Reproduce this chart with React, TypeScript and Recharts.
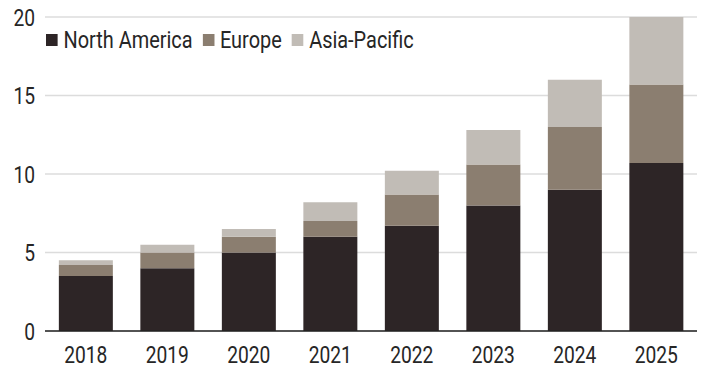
import React from 'react';
import {
  BarChart,
  Bar,
  XAxis,
  YAxis,
  CartesianGrid,
} from 'recharts';

const years = ['2018', '2019', '2020', '2021', '2022', '2023', '2024', '2025'];
const northAmerica = [3.5, 4, 5, 6, 6.7, 8, 9, 10.7];
const europe = [0.7, 1, 1, 1, 2, 2.6, 4, 5];
const asiaPacific = [0.3, 0.5, 0.5, 1.2, 1.5, 2.2, 3, 4.3];
const yTicks = [0, 5, 10, 15, 20];

const SERIES = [
  { key: 'na', name: 'North America', color: '#2d2526' },
  { key: 'eu', name: 'Europe', color: '#8b7e70' },
  { key: 'ap', name: 'Asia-Pacific', color: '#c1bcb6' },
];

const data = years.map((year, i) => ({
  year,
  na: northAmerica[i],
  eu: europe[i],
  ap: asiaPacific[i],
}));

// condensed look: Roboto squeezed horizontally
const FONT = 'Roboto, "Liberation Sans", sans-serif';
const SQUEEZE = 0.8;
const LEGEND_SQUEEZE = 0.83;
const FONT_SIZE = 24;

const XTick = ({ x, y, payload }: any) => (
  <text
    transform={`translate(${x},${y}) scale(${SQUEEZE},1)`}
    textAnchor='middle'
    dy='0.71em'
    fill='#262626'
    fontSize={FONT_SIZE}
    fontFamily={FONT}
  >
    {payload.value}
  </text>
);

const YTick = ({ x, y, payload }: any) => (
  <text
    transform={`translate(${x},${y}) scale(${SQUEEZE},1)`}
    textAnchor='end'
    dy='0.355em'
    fill='#262626'
    fontSize={FONT_SIZE}
    fontFamily={FONT}
  >
    {payload.value}
  </text>
);

const LegendBox = () => (
  <div
    style={{
      position: 'absolute',
      left: 46,
      top: 26,
      display: 'flex',
      alignItems: 'center',
      whiteSpace: 'nowrap',
      transform: `scaleX(${LEGEND_SQUEEZE})`,
      transformOrigin: 'left center',
      fontFamily: FONT,
      fontSize: FONT_SIZE,
      lineHeight: '28px',
      color: '#262626',
    }}
  >
    {SERIES.map((s) => (
      <div key={s.key} style={{ display: 'flex', alignItems: 'center', marginRight: 12 }}>
        <div style={{ width: 14, height: 12, background: s.color, marginRight: 7 }} />
        <span>{s.name}</span>
      </div>
    ))}
  </div>
);

export default function App() {
  return (
    <div style={{ position: 'absolute', left: 0, top: 0, width: 701, height: 368, background: '#fff' }}>
      <BarChart
        width={701}
        height={368}
        data={data}
        margin={{ top: 17, right: 4, bottom: 0, left: 0 }}
        barCategoryGap='17%'
      >
        <CartesianGrid vertical={false} stroke='#dcdcdc' strokeWidth={1.5} />
        <XAxis
          dataKey='year'
          axisLine={{ stroke: '#222', strokeWidth: 1.5 }}
          tickLine={false}
          tickSize={0}
          tickMargin={15}
          height={37}
          tick={<XTick />}
        />
        <YAxis
          domain={[0, 20]}
          ticks={yTicks}
          width={45}
          axisLine={false}
          tickLine={false}
          tickSize={0}
          tickMargin={10}
          tick={<YTick />}
        />
        {SERIES.map((s) => (
          <Bar
            key={s.key}
            dataKey={s.key}
            name={s.name}
            stackId='a'
            fill={s.color}
            isAnimationActive={false}
          />
        ))}
      </BarChart>
      <LegendBox />
    </div>
  );
}
